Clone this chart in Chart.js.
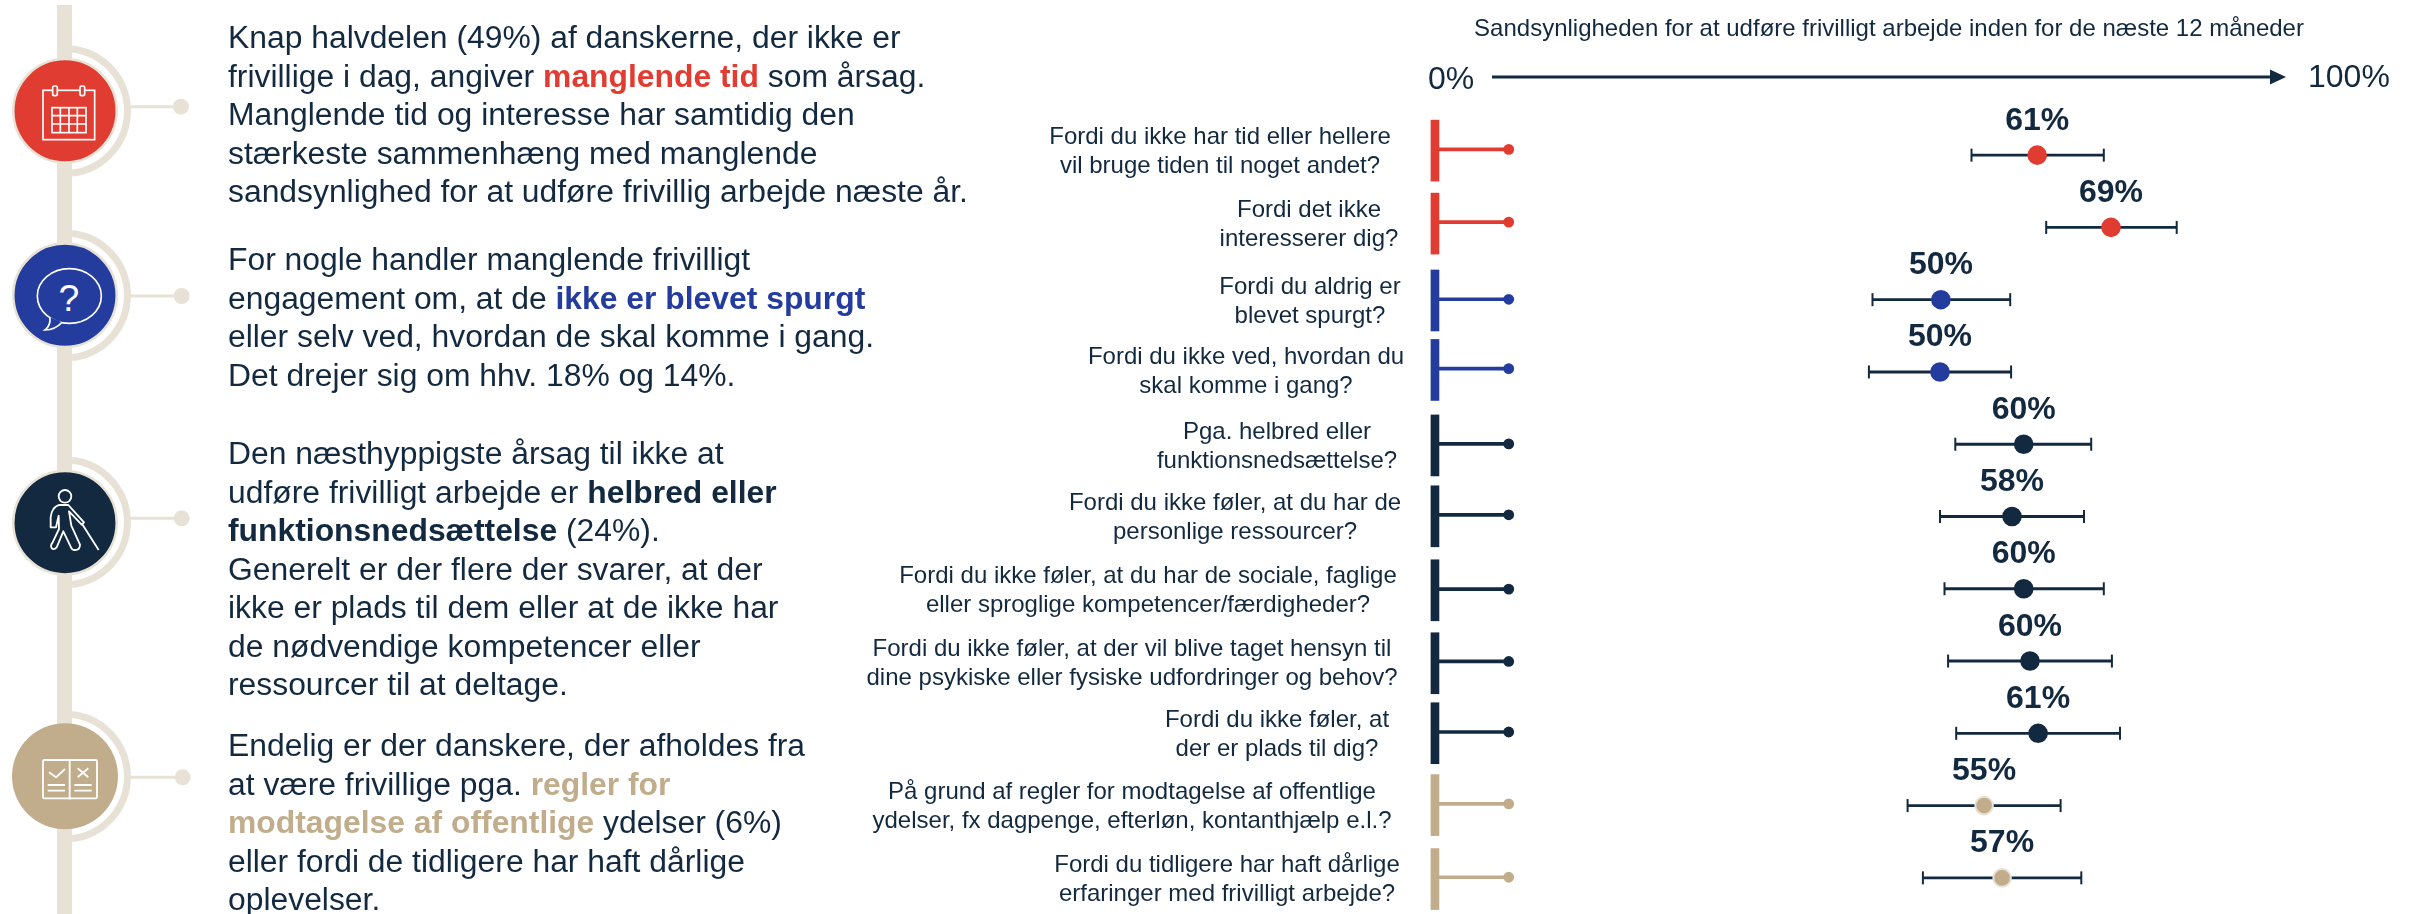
<!DOCTYPE html>
<html lang="da">
<head>
<meta charset="utf-8">
<title>Sandsynligheden for at udføre frivilligt arbejde</title>
<script src="https://cdn.jsdelivr.net/npm/chart.js@4/dist/chart.umd.js"></script>
<style>
    html, body { margin: 0; padding: 0; background: #fff; overflow: hidden; }
    #page { position: relative; width: 2415px; height: 914px; overflow: hidden; }
    #myChart { position: absolute; left: 0; top: 0; }
    #rail { position: absolute; left: 0; top: 0; }
    .para {
        position: absolute;
        left: 228px;
        font: 31.85px/38.5px "Liberation Sans", Arial, sans-serif;
        color: #12293f;
        white-space: nowrap;
    }
    .red { color: #e03c31; font-weight: bold; }
    .blue { color: #233c9e; font-weight: bold; }
    .navy { font-weight: bold; }
    .tan { color: #c1ad8b; font-weight: bold; }
</style>
</head>
<body>
<div id="page">
    <svg id="rail" width="400" height="914" fill="none">
        <rect x="57" y="5" width="15" height="909" fill="#e8e2d6"/>

        <g stroke="#e8e2d6" stroke-width="7">
            <path d="M72 48.9 A62.5 62.5 0 0 1 72 173.1"/>
            <path d="M72 233.4 A62.5 62.5 0 0 1 72 357.6"/>
            <path d="M72 460.2 A62.5 62.5 0 0 1 72 584.4"/>
            <path d="M72 714.4 A62.5 62.5 0 0 1 72 838.6"/>
        </g>
        <g stroke="#e8e2d6" stroke-width="3">
            <path d="M130 106.7 H181"/>
            <path d="M130 296 H181"/>
            <path d="M130 518.3 H181"/>
            <path d="M129 777.3 H182"/>
        </g>
        <g fill="#e8e2d6">
            <circle cx="181" cy="106.7" r="8"/>
            <circle cx="181.7" cy="296" r="8"/>
            <circle cx="181.7" cy="518.3" r="8"/>
            <circle cx="182.7" cy="777.3" r="8"/>
        </g>

        <circle cx="65" cy="110.8" r="51.7" fill="#e03c31" stroke="#e8e2d6" stroke-width="2.5"/>
        <circle cx="65" cy="295.3" r="51.7" fill="#233c9e" stroke="#e8e2d6" stroke-width="2.5"/>
        <circle cx="65" cy="522.7" r="51.7" fill="#12293f" stroke="#e8e2d6" stroke-width="2.5"/>
        <circle cx="65" cy="776.2" r="53" fill="#c1ad8b"/>

        <!-- icons are sketched in 3x units -->
        <g transform="scale(0.3333)" stroke="#fff" stroke-width="5">
            <rect x="129" y="271" width="155" height="148"/>
            <rect x="158" y="258" width="14" height="29" rx="5" fill="#e03c31"/>
            <rect x="240" y="258" width="14" height="29" rx="5" fill="#e03c31"/>
            <rect x="156" y="323" width="102" height="75"/>
            <path d="M181 323 V398 M207 323 V398 M232 323 V398 M156 347 H258 M156 372 H258"/>

            <ellipse cx="208" cy="888" rx="96" ry="82"/>
            <path d="M150 952 Q152 978 135 990 Q166 990 186 967" fill="#233c9e"/>
            <text x="207" y="932" text-anchor="middle" font-family="Liberation Sans" font-size="112" fill="#fff" stroke="none">?</text>
        </g>
        <g transform="translate(0 454) scale(0.3333)" stroke="#fff" stroke-width="5.5" stroke-linejoin="round">
            <circle cx="195" cy="127" r="19"/>
            <path d="M178 153 H205 L252 205 L245 212 L207 172 L214 215 L240 272 Q240 288 225 288 Q215 288 212 278 L190 232 L170 280 Q160 290 155 282 Q150 275 158 265 L177 225 L176 185 L168 220 H152 V190 Q155 160 178 153 Z"/>
            <path d="M245 208 L296 288"/>

            <rect x="129" y="918" width="162" height="115" rx="4"/>
            <path d="M209 918 V1036"/>
            <path d="M147 955 L168 970 L195 945 M233 943 L265 970 M265 943 L233 970"/>
            <path d="M143 993 H195 M143 1010 H195 M223 993 H275 M223 1010 H275"/>
        </g>
    </svg>

    <canvas id="myChart" width="2415" height="914"></canvas>

    <div class="para" style="top: 18px">
        Knap halvdelen (49%) af danskerne, der ikke er<br>
        frivillige i dag, angiver <span class="red">manglende tid</span> som årsag.<br>
        Manglende tid og interesse har samtidig den<br>
        stærkeste sammenhæng med manglende<br>
        sandsynlighed for at udføre frivillig arbejde næste år.
    </div>
    <div class="para" style="top: 240px">
        For nogle handler manglende frivilligt<br>
        engagement om, at de <span class="blue">ikke er blevet spurgt</span><br>
        eller selv ved, hvordan de skal komme i gang.<br>
        Det drejer sig om hhv. 18% og 14%.
    </div>
    <div class="para" style="top: 434px">
        Den næsthyppigste årsag til ikke at<br>
        udføre frivilligt arbejde er <span class="navy">helbred eller</span><br>
        <span class="navy">funktionsnedsættelse</span> (24%).<br>
        Generelt er der flere der svarer, at der<br>
        ikke er plads til dem eller at de ikke har<br>
        de nødvendige kompetencer eller<br>
        ressourcer til at deltage.
    </div>
    <div class="para" style="top: 726px">
        Endelig er der danskere, der afholdes fra<br>
        at være frivillige pga. <span class="tan">regler for</span><br>
        <span class="tan">modtagelse af offentlige</span> ydelser (6%)<br>
        eller fordi de tidligere har haft dårlige<br>
        oplevelser.
    </div>
</div>

<script>
const title = 'Sandsynligheden for at udføre frivilligt arbejde inden for de næste 12 måneder';
const axisStart = '0%';
const axisEnd = '100%';

const categories = [
    ['Fordi du ikke har tid eller hellere', 'vil bruge tiden til noget andet?'],
    ['Fordi det ikke', 'interesserer dig?'],
    ['Fordi du aldrig er', 'blevet spurgt?'],
    ['Fordi du ikke ved, hvordan du', 'skal komme i gang?'],
    ['Pga. helbred eller', 'funktionsnedsættelse?'],
    ['Fordi du ikke føler, at du har de', 'personlige ressourcer?'],
    ['Fordi du ikke føler, at du har de sociale, faglige', 'eller sproglige kompetencer/færdigheder?'],
    ['Fordi du ikke føler, at der vil blive taget hensyn til', 'dine psykiske eller fysiske udfordringer og behov?'],
    ['Fordi du ikke føler, at', 'der er plads til dig?'],
    ['På grund af regler for modtagelse af offentlige', 'ydelser, fx dagpenge, efterløn, kontanthjælp e.l.?'],
    ['Fordi du tidligere har haft dårlige', 'erfaringer med frivilligt arbejde?']
];

const estimates = [60.8, 69.0, 50.1, 50.0, 59.3, 58.0, 59.3, 60.0, 60.9, 54.9, 56.9];
const ciLow = [53.5, 61.8, 42.5, 42.1, 51.7, 50.0, 50.5, 50.9, 51.8, 46.4, 48.1];
const ciHigh = [68.2, 76.3, 57.8, 57.9, 66.8, 66.0, 68.2, 69.1, 70.0, 63.4, 65.7];
const valueLabels = ['61%', '69%', '50%', '50%', '60%', '58%', '60%', '60%', '61%', '55%', '57%'];

const navy = '#12293f';
const red = '#e03c31';
const blue = '#233c9e';
const tan = '#c1ad8b';
const halo = '#e8e2d6';
const rowColors = [red, red, blue, blue, navy, navy, navy, navy, navy, tan, tan];

// the hand placed boxes in the original do not sit on an even grid, pixels off the row
const labelCenter = [1220, 1309, 1310, 1246, 1277, 1235, 1148, 1132, 1277, 1132, 1227];
const labelShift = [-3.7, -2.8, 2.1, -0.3, 2.7, 1.3, 2, 3.2, 1.4, 1.5, 2.2];
const barShift = [-4.5, -3.8, 0.8, -2, 1.2, -0.2, 1.5, 2.2, -0.1, -0.5, 1.2];
const stemShift = [-5.7, -5.3, -0.4, -3.3, -0.3, -1.7, 0.3, 0.4, -1.3, -1.7, -0.6];

const rowStep = (914 - 119) / 11;
const barSpan = [-6.56, -5.67];
const stemSpan = [-5.67, 2.08];

const bracketBars = categories.map((c, i) => ({x: barSpan, y: i + barShift[i] / rowStep}));
const bracketStems = categories.map((c, i) => ({x: stemSpan, y: i + stemShift[i] / rowStep}));
const bracketDots = categories.map((c, i) => ({x: stemSpan[1], y: i + stemShift[i] / rowStep}));

const textFont = '"Liberation Sans", Arial, sans-serif';

const textPlugin = {
    id: 'chartText',
    afterDatasetsDraw(chart) {
        const {ctx, scales} = chart;
        ctx.save();
        ctx.fillStyle = navy;

        ctx.textBaseline = 'alphabetic';
        ctx.textAlign = 'center';
        ctx.font = 'bold 32px ' + textFont;
        valueLabels.forEach((label, i) => {
            ctx.fillText(label, scales.x.getPixelForValue(estimates[i]), scales.y.getPixelForValue(i) - 25.5);
        });

        ctx.textBaseline = 'middle';
        ctx.font = '24px ' + textFont;
        categories.forEach((lines, i) => {
            const middle = scales.y.getPixelForValue(i) + labelShift[i];
            ctx.fillText(lines[0], labelCenter[i], middle - 14.5);
            ctx.fillText(lines[1], labelCenter[i], middle + 14.5);
        });

        ctx.textBaseline = 'alphabetic';
        ctx.font = '24px ' + textFont;
        ctx.fillText(title, 1889, 36);

        ctx.textAlign = 'left';
        ctx.font = '32px ' + textFont;
        ctx.fillText(axisStart, 1428, 88.5);
        ctx.fillText(axisEnd, 2308, 87);

        ctx.strokeStyle = navy;
        ctx.lineWidth = 3;
        ctx.beginPath();
        ctx.moveTo(1492, 77);
        ctx.lineTo(2272, 77);
        ctx.stroke();
        ctx.beginPath();
        ctx.moveTo(2270, 69.5);
        ctx.lineTo(2286, 77);
        ctx.lineTo(2270, 84.5);
        ctx.closePath();
        ctx.fill();
        ctx.restore();
    }
};

const ctx = document.getElementById('myChart').getContext('2d');

const myChart = new Chart(ctx, {
    type: 'bar',
    plugins: [textPlugin],
    data: {
        labels: categories,
        datasets: [
            {
                label: 'Konfidensinterval',
                data: ciLow.map((low, i) => [low, ciHigh[i]]),
                backgroundColor: navy,
                barThickness: 2.2,
                grouped: false,
                order: 5
            },
            {
                type: 'line',
                label: 'Nedre grænse',
                indexAxis: 'y',
                data: ciLow,
                showLine: false,
                pointStyle: 'line',
                pointRotation: 90,
                pointRadius: 6.5,
                pointBorderColor: navy,
                pointBorderWidth: 2,
                order: 4
            },
            {
                type: 'line',
                label: 'Øvre grænse',
                indexAxis: 'y',
                data: ciHigh,
                showLine: false,
                pointStyle: 'line',
                pointRotation: 90,
                pointRadius: 6.5,
                pointBorderColor: navy,
                pointBorderWidth: 2,
                order: 4
            },
            {
                type: 'line',
                label: 'Sandsynlighed',
                indexAxis: 'y',
                data: estimates,
                showLine: false,
                pointRadius: 8.8,
                pointBackgroundColor: rowColors,
                pointBorderColor: rowColors.map(c => c === tan ? halo : c),
                pointBorderWidth: 2,
                order: 1
            },
            {
                label: 'Markering',
                data: bracketBars,
                yAxisID: 'yMark',
                backgroundColor: rowColors,
                barThickness: 61,
                grouped: false,
                clip: false,
                order: 3
            },
            {
                label: 'Streg',
                data: bracketStems,
                yAxisID: 'yMark',
                backgroundColor: rowColors,
                barThickness: 3,
                grouped: false,
                clip: false,
                order: 3
            },
            {
                type: 'line',
                label: 'Prik',
                indexAxis: 'y',
                data: bracketDots,
                yAxisID: 'yMark',
                showLine: false,
                pointRadius: 5.4,
                pointBackgroundColor: rowColors,
                pointBorderColor: rowColors,
                pointBorderWidth: 0,
                clip: false,
                order: 2
            }
        ]
    },
    options: {
        indexAxis: 'y',
        responsive: false,
        animation: false,
        clip: false,
        layout: {
            autoPadding: false,
            padding: {left: 1490, right: 25, top: 119, bottom: 0}
        },
        scales: {
            x: {type: 'linear', min: 0, max: 100, display: false},
            y: {type: 'category', display: false, ticks: {display: false}},
            yMark: {type: 'linear', min: -0.5, max: 10.5, reverse: true, offset: false, display: false, ticks: {display: false}}
        },
        plugins: {
            tooltip: {
                enabled: false
            },
            legend: {
                display: false
            }
        }
    }
});
</script>
</body>
</html>
